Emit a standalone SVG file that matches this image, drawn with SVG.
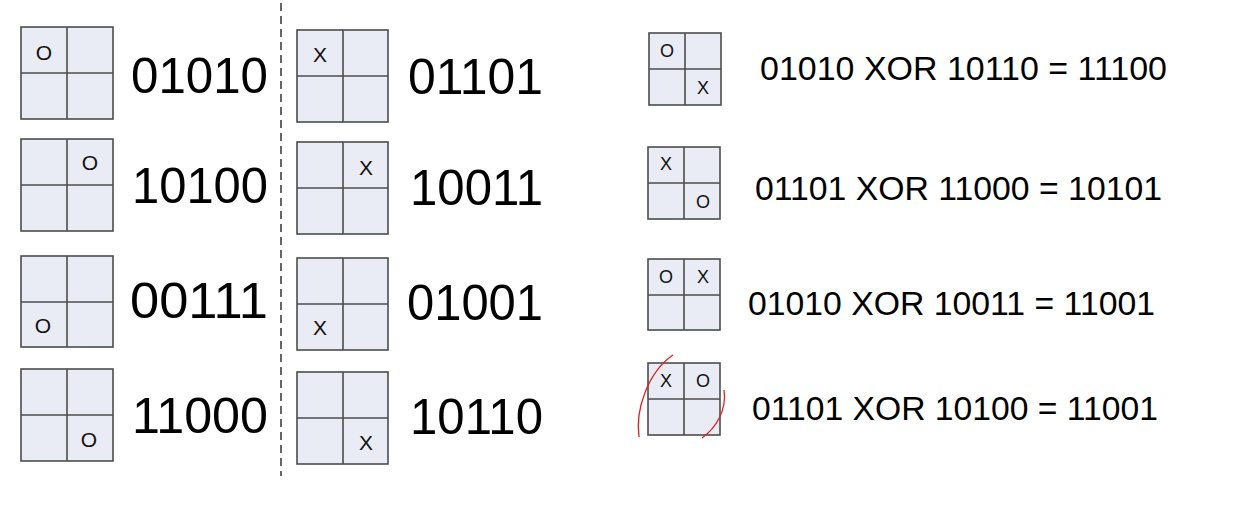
<svg xmlns="http://www.w3.org/2000/svg" width="1246" height="522" viewBox="0 0 1246 522">
<style>
.cell{fill:#e9ebf5;stroke:#4d4d4d;stroke-width:1.6}
.ln{stroke:#4d4d4d;stroke-width:1.6}
.mk{font-family:"Liberation Sans",Arial,sans-serif;font-size:21px;fill:#111;text-anchor:middle}
.mks{font-family:"Liberation Sans",Arial,sans-serif;font-size:18px;fill:#111;text-anchor:middle}
.big{font-family:"Liberation Sans",Arial,sans-serif;font-size:50px;fill:#000}
.eq{font-family:"Liberation Sans",Arial,sans-serif;font-size:34px;fill:#000}
.dash{stroke:#333;stroke-width:1.5;stroke-dasharray:8 5;fill:none}
.red{stroke:#e02020;stroke-width:1.3;fill:none}
</style>
<rect width="1246" height="522" fill="#fff"/>
<g id="connectors">
<line class="dash" x1="281" y1="3" x2="281" y2="476"/>
</g>
<g id="L1"><rect class="cell" x="21" y="27" width="92" height="92"/><line class="ln" x1="67" y1="27" x2="67" y2="119"/><line class="ln" x1="21" y1="73" x2="113" y2="73"/><text class="mk" x="44" y="60">O</text><text class="big" x="131" y="93" textLength="137" lengthAdjust="spacingAndGlyphs">01010</text></g>
<g id="L2"><rect class="cell" x="21" y="139" width="92" height="92"/><line class="ln" x1="67" y1="139" x2="67" y2="231"/><line class="ln" x1="21" y1="185" x2="113" y2="185"/><text class="mk" x="90" y="170">O</text><text class="big" x="132" y="203" textLength="136" lengthAdjust="spacingAndGlyphs">10100</text></g>
<g id="L3"><rect class="cell" x="21" y="256" width="92" height="91"/><line class="ln" x1="67" y1="256" x2="67" y2="347"/><line class="ln" x1="21" y1="302" x2="113" y2="302"/><text class="mk" x="43" y="333">O</text><text class="big" x="130" y="318" textLength="138" lengthAdjust="spacingAndGlyphs">00111</text></g>
<g id="L4"><rect class="cell" x="21" y="369" width="92" height="92"/><line class="ln" x1="67" y1="369" x2="67" y2="461"/><line class="ln" x1="21" y1="415" x2="113" y2="415"/><text class="mk" x="89" y="447">O</text><text class="big" x="132" y="433" textLength="136" lengthAdjust="spacingAndGlyphs">11000</text></g>
<g id="M1"><rect class="cell" x="297" y="30" width="91" height="92"/><line class="ln" x1="343" y1="30" x2="343" y2="122"/><line class="ln" x1="297" y1="76" x2="388" y2="76"/><text class="mk" x="320" y="62">X</text><text class="big" x="408" y="94" textLength="135" lengthAdjust="spacingAndGlyphs">01101</text></g>
<g id="M2"><rect class="cell" x="297" y="142" width="91" height="92"/><line class="ln" x1="343" y1="142" x2="343" y2="234"/><line class="ln" x1="297" y1="188" x2="388" y2="188"/><text class="mk" x="366" y="175">X</text><text class="big" x="410" y="205" textLength="133" lengthAdjust="spacingAndGlyphs">10011</text></g>
<g id="M3"><rect class="cell" x="297" y="258" width="91" height="92"/><line class="ln" x1="343" y1="258" x2="343" y2="350"/><line class="ln" x1="297" y1="304" x2="388" y2="304"/><text class="mk" x="320" y="335">X</text><text class="big" x="407" y="320" textLength="136" lengthAdjust="spacingAndGlyphs">01001</text></g>
<g id="M4"><rect class="cell" x="297" y="372" width="91" height="92"/><line class="ln" x1="343" y1="372" x2="343" y2="464"/><line class="ln" x1="297" y1="418" x2="388" y2="418"/><text class="mk" x="366" y="450">X</text><text class="big" x="410" y="434" textLength="133" lengthAdjust="spacingAndGlyphs">10110</text></g>
<g id="R1"><rect class="cell" x="649" y="33" width="72" height="72"/><line class="ln" x1="685" y1="33" x2="685" y2="105"/><line class="ln" x1="649" y1="69" x2="721" y2="69"/><text class="mks" x="667" y="57">O</text><text class="mks" x="703" y="94">X</text><text class="eq" x="760" y="80" textLength="407" lengthAdjust="spacingAndGlyphs">01010 XOR 10110 = 11100</text></g>
<g id="R2"><rect class="cell" x="648" y="147" width="72" height="72"/><line class="ln" x1="684" y1="147" x2="684" y2="219"/><line class="ln" x1="648" y1="183" x2="720" y2="183"/><text class="mks" x="666" y="170">X</text><text class="mks" x="703" y="208">O</text><text class="eq" x="755" y="200" textLength="407" lengthAdjust="spacingAndGlyphs">01101 XOR 11000 = 10101</text></g>
<g id="R3"><rect class="cell" x="648" y="259" width="72" height="71"/><line class="ln" x1="684" y1="259" x2="684" y2="330"/><line class="ln" x1="648" y1="295" x2="720" y2="295"/><text class="mks" x="666" y="283">O</text><text class="mks" x="703" y="283">X</text><text class="eq" x="748" y="315" textLength="407" lengthAdjust="spacingAndGlyphs">01010 XOR 10011 = 11001</text></g>
<g id="R4"><rect class="cell" x="648" y="363" width="72" height="72"/><line class="ln" x1="684" y1="363" x2="684" y2="435"/><line class="ln" x1="648" y1="399" x2="720" y2="399"/><text class="mks" x="666" y="387">X</text><text class="mks" x="703" y="387">O</text><text class="eq" x="752" y="420" textLength="406" lengthAdjust="spacingAndGlyphs">01101 XOR 10100 = 11001</text><path class="red" d="M639,437 C635,410 648,372 673,355"/><path class="red" d="M724,390 C727,410 716,428 702,438"/></g>
</svg>
